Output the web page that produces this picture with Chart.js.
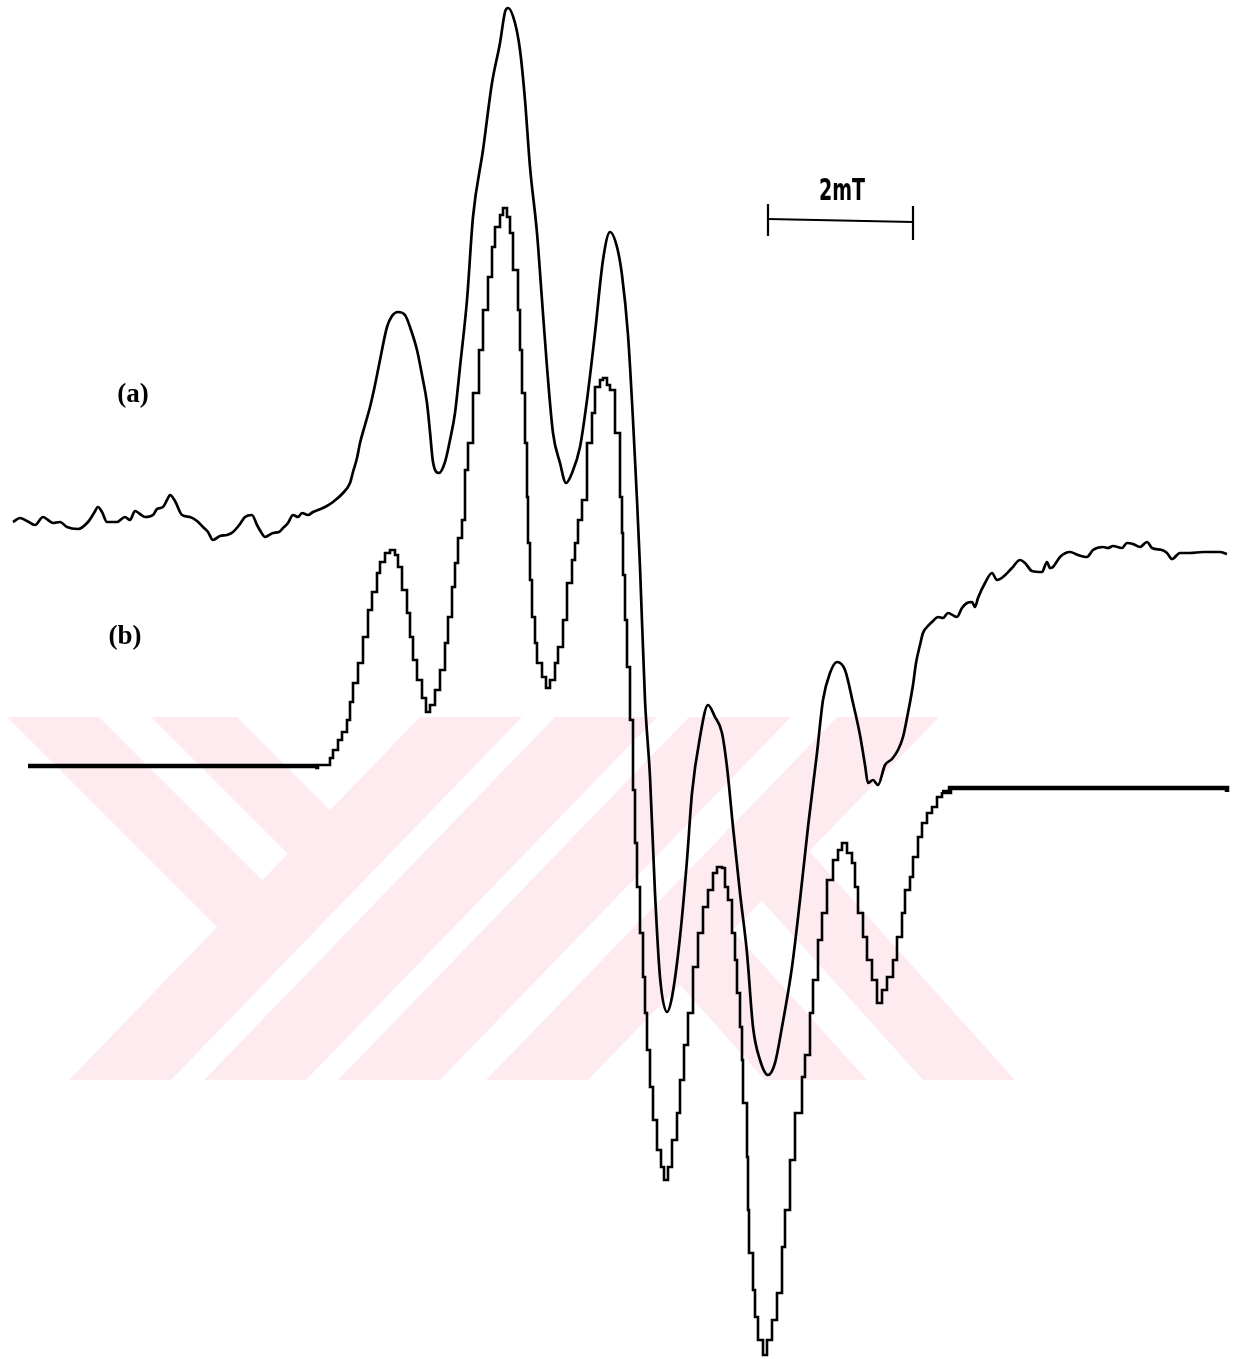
<!DOCTYPE html>
<html>
<head>
<meta charset="utf-8">
<script src="https://cdn.jsdelivr.net/npm/chart.js@4.4.0/dist/chart.umd.min.js"></script>
<style>
  html, body { margin: 0; padding: 0; background: #fff; }
  #wrap { width: 1242px; height: 1359px; position: relative; }
</style>
</head>
<body>
<div id="wrap"><canvas id="myChart"></canvas></div>
<script>
// spectra (x = field position, y = signal, page units, y grows downward)
const aX = [13,20,27,35,43,48,53,60,67,78,88,94,98,102,107,117,125,130,135,140,145,153,157,163,167,170,175,182,190,197,203,208,213,220,227,233,240,245,252,257,261,265,273,279,283,288,293,298,302,308,313,318,325,333,343,350,353,357,360,365,370,375,380,387,392,398,405,411,417,422,427,430,433,439,445,450,455,460,467,473,483,492,500,505,508,515,520,525,530,537,542,547,553,560,566,572,580,587,595,603,610,617,622,628,633,637,640,645,650,655,660,667,672,680,687,692,700,708,715,722,727,733,740,747,753,760,768,775,782,792,800,808,817,823,830,837,845,853,860,865,868,873,878,885,892,898,903,907,913,916,920,923,927,932,938,943,948,957,962,967,972,975,978,985,992,997,1003,1012,1020,1025,1032,1042,1047,1050,1053,1060,1070,1078,1087,1093,1103,1108,1113,1122,1127,1133,1140,1147,1152,1162,1167,1172,1180,1190,1203,1213,1220,1227];
const aY = [522,518,521,525,517,520,523,522,527,529,522,513,507,512,522,522,517,520,511,514,517,515,509,507,500,495,501,515,517,521,527,532,540,536,535,532,524,517,515,525,532,537,533,532,528,523,515,517,513,515,512,510,507,502,493,483,472,458,443,425,407,385,360,327,316,312,315,330,350,375,403,432,462,473,462,440,413,367,300,217,150,83,43,12,8,23,50,100,167,233,300,367,433,463,483,473,447,400,333,260,232,247,275,335,420,500,567,700,777,893,977,1012,997,937,860,793,737,705,717,733,767,827,893,953,1027,1060,1075,1063,1027,967,900,827,753,700,673,662,670,703,735,765,783,780,785,765,759,750,737,718,685,663,645,633,627,622,617,618,613,617,608,603,602,607,598,583,573,580,577,568,560,563,571,572,562,568,567,557,552,555,557,550,547,548,546,548,543,544,547,542,548,550,553,559,553,553,552,552,552,554];

const bX = [28,315,318,327,330,333,338,342,347,350,353,358,363,368,372,377,380,385,390,395,398,402,407,410,413,417,422,426,430,435,440,445,448,452,455,458,462,465,468,473,479,483,488,492,495,500,503,507,510,513,518,520,522,525,527,528,530,532,535,537,542,546,550,555,558,563,567,572,575,578,582,587,592,595,600,603,607,610,615,620,622,623,625,627,630,633,635,637,640,643,645,647,650,653,657,661,664,668,672,677,680,684,688,693,698,703,708,713,717,722,725,728,732,735,737,740,742,743,747,748,749,753,755,758,763,767,772,777,782,785,790,795,802,805,810,813,818,822,827,833,838,842,847,852,855,858,863,867,872,877,882,887,893,897,902,905,910,913,918,922,927,932,937,942,950,1227];
const bY = [766,768,765,765,758,750,740,732,720,702,683,663,637,610,592,573,562,553,550,555,567,590,613,637,660,680,698,712,705,690,670,643,617,587,563,538,520,470,443,393,350,310,277,247,227,215,208,217,233,270,310,350,393,443,497,543,580,617,643,663,677,688,680,663,647,620,583,560,543,520,500,443,413,387,380,378,385,390,433,497,533,575,620,667,720,790,843,887,933,977,1013,1050,1087,1120,1150,1167,1180,1167,1140,1113,1080,1045,1013,967,933,907,890,873,867,868,887,900,933,960,993,1027,1060,1103,1157,1210,1253,1290,1317,1340,1355,1340,1320,1293,1247,1210,1160,1113,1077,1055,1013,980,940,913,880,860,850,843,853,863,887,913,937,960,980,1003,990,977,960,937,913,890,877,857,837,823,813,807,797,792,788,792];

// 2 mT scale bar
const barX = [768, 913];
const barY = [219, 222];
const tickTop = [204, 206];
const tickBottom = [236, 240];

const traceLabels = [
  {text: '(a)', x: 133, y: 395},
  {text: '(b)', x: 125, y: 637}
];
const barLabel = {text: '2mT', x: 842, y: 192};

// faint watermark behind the traces
const wmShapes = [
  [[7,717],[99,717],[262,880],[217,927]],
  [[151,717],[237,717],[330,810],[288,854]],
  [[420,717],[522,717],[171,1080],[69,1080]],
  [[555,717],[657,717],[306,1080],[204,1080]],
  [[689,717],[791,717],[440,1080],[338,1080]],
  [[837,717],[939,717],[588,1080],[486,1080]],
  [[680,985],[732,930],[867,1080],[765,1080]],
  [[761,900],[809,851],[1015,1080],[923,1080]]
];

const toPts = (xs, ys) => xs.map((v, i) => ({x: v, y: ys[i]}));

const backdrop = {
  id: 'backdrop',
  beforeDatasetsDraw(chart) {
    const {ctx, scales: {x, y}} = chart;
    ctx.save();
    ctx.fillStyle = '#fdebef';
    wmShapes.forEach(poly => {
      ctx.beginPath();
      poly.forEach(([px, py], i) => {
        const X = x.getPixelForValue(px), Y = y.getPixelForValue(py);
        if (i) ctx.lineTo(X, Y); else ctx.moveTo(X, Y);
      });
      ctx.closePath();
      ctx.fill();
    });
    ctx.restore();
  },
  afterDatasetsDraw(chart) {
    const {ctx, scales: {x, y}} = chart;
    ctx.save();
    ctx.fillStyle = '#000';
    ctx.textAlign = 'center';
    ctx.textBaseline = 'middle';
    ctx.font = 'bold 27px "Liberation Serif", serif';
    traceLabels.forEach(l => ctx.fillText(l.text, x.getPixelForValue(l.x), y.getPixelForValue(l.y)));
    // narrow plotter lettering
    ctx.font = 'bold 31px "DejaVu Sans Condensed", "Liberation Sans Narrow", sans-serif';
    const w = ctx.measureText(barLabel.text).width;
    ctx.translate(x.getPixelForValue(barLabel.x), y.getPixelForValue(barLabel.y));
    ctx.scale(46 / w, 1);
    ctx.fillText(barLabel.text, 0, 0);
    ctx.restore();
  }
};

const line = (data, extra) => Object.assign({
  data: data,
  borderColor: '#000',
  borderWidth: 2.5,
  pointRadius: 0,
  fill: false,
  tension: 0
}, extra);

const ctx = document.getElementById('myChart').getContext('2d');
const myChart = new Chart(ctx, {
  type: 'line',
  data: {
    datasets: [
      line(toPts(aX, aY), {label: '(a)', borderWidth: 2.7, borderJoinStyle: 'round', cubicInterpolationMode: 'monotone'}),
      line(toPts(bX, bY), {
        label: '(b)',
        stepped: true,
        borderJoinStyle: 'miter',
        segment: {
          borderWidth: c => (c.p1.parsed.x <= 315 || c.p0.parsed.x >= 942) ? 4.5 : 2.6
        }
      }),
      line(toPts(barX, barY), {label: 'bar', borderWidth: 2.2}),
      line(toPts([barX[0], barX[0]], [tickTop[0], tickBottom[0]]), {label: 'tick1', borderWidth: 2.2}),
      line(toPts([barX[1], barX[1]], [tickTop[1], tickBottom[1]]), {label: 'tick2', borderWidth: 2.2})
    ]
  },
  options: {
    responsive: true,
    maintainAspectRatio: false,
    animation: false,
    layout: { padding: 0 },
    plugins: {
      legend: { display: false },
      tooltip: { enabled: false }
    },
    scales: {
      x: { type: 'linear', min: 0, max: 1242, display: false },
      y: { type: 'linear', min: 0, max: 1359, reverse: true, display: false }
    }
  },
  plugins: [backdrop]
});
</script>
</body>
</html>
